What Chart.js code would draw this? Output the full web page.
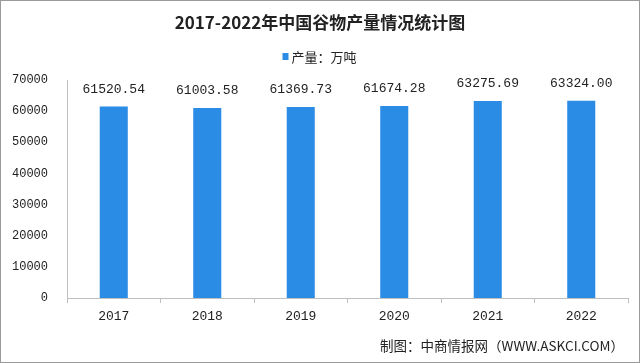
<!DOCTYPE html>
<html>
<head>
<meta charset="utf-8">
<script src="https://cdn.jsdelivr.net/npm/chart.js@4/dist/chart.umd.min.js"></script>
<style>
  html, body { margin: 0; padding: 0; background: #fff; }
  #wrap { width: 640px; height: 363px; }
</style>
</head>
<body>
<div id="wrap"><canvas id="myChart"></canvas></div>
<script>
// chart data
const years = ['2017', '2018', '2019', '2020', '2021', '2022'];
const output = [61520.54, 61003.58, 61369.73, 61674.28, 63275.69, 63324.00];
const yTicks = [0, 10000, 20000, 30000, 40000, 50000, 60000, 70000];

const titleText = '2017-2022年中国谷物产量情况统计图';
const legendText = '产量：万吨';
const footerText = '制图：中商情报网（WWW.ASKCI.COM）';
const barColor = '#2b8ce6';

// draws title, legend, value labels, footer and the frame
const decorations = {
    id: 'decorations',
    afterDraw: (chart) => {
        const { ctx } = chart;
        ctx.save();

        // frame
        ctx.strokeStyle = '#9a9a9a';
        ctx.lineWidth = 1;
        ctx.strokeRect(0.5, 0.5, 639, 362);

        // title
        ctx.fillStyle = '#222';
        ctx.textAlign = 'center';
        ctx.textBaseline = 'middle';
        ctx.font = 'bold 17px "Noto Sans CJK SC"';
        ctx.fillText(titleText, 320, 23);

        // legend
        ctx.font = '13px "Noto Sans CJK SC"';
        ctx.textAlign = 'left';
        const lw = ctx.measureText(legendText).width;
        const lx = 320 - (lw + 10) / 2;
        ctx.fillStyle = barColor;
        ctx.fillRect(lx, 53, 6, 7);
        ctx.fillStyle = '#222';
        ctx.fillText(legendText, lx + 9, 57);

        // value labels above bars
        ctx.font = '13px "Liberation Mono"';
        ctx.textAlign = 'center';
        const meta = chart.getDatasetMeta(0);
        meta.data.forEach((bar, i) => {
            ctx.fillText(output[i].toFixed(2), bar.x, bar.y - 17);
        });

        // footer
        ctx.textAlign = 'right';
        ctx.font = '13.5px "Noto Sans CJK SC"';
        ctx.fillText(footerText, 624, 346);

        ctx.restore();
    }
};

const ctx1 = document.getElementById('myChart').getContext('2d');

new Chart(ctx1, {
    type: 'bar',
    data: {
        labels: years,
        datasets: [{
            label: legendText,
            data: output,
            backgroundColor: barColor,
            barPercentage: 0.6,
            categoryPercentage: 0.5
        }]
    },
    options: {
        responsive: true,
        maintainAspectRatio: false,
        animation: false,
        layout: {
            padding: { left: 0, right: 12, top: 80, bottom: 0 }
        },
        scales: {
            x: {
                grid: {
                    display: true,
                    drawOnChartArea: false,
                    offset: true,
                    tickLength: 5,
                    color: '#bfbfbf'
                },
                border: { display: true, color: '#bfbfbf' },
                ticks: {
                    color: '#222',
                    font: { family: 'Liberation Mono', size: 13 },
                    padding: 6
                },
                afterFit: (scale) => { scale.height = 65; }
            },
            y: {
                min: 0,
                max: 70000,
                afterBuildTicks: (scale) => {
                    scale.ticks = yTicks.map(v => ({ value: v }));
                },
                grid: { display: false },
                border: { display: true, color: '#bfbfbf' },
                ticks: {
                    color: '#222',
                    font: { family: 'Liberation Mono', size: 12 },
                    padding: 11,
                    callback: (value) => String(value)
                },
                afterFit: (scale) => { scale.width = 67; }
            }
        },
        plugins: {
            legend: { display: false },
            title: { display: false },
            tooltip: { enabled: false }
        }
    },
    plugins: [decorations]
});
</script>
</body>
</html>
